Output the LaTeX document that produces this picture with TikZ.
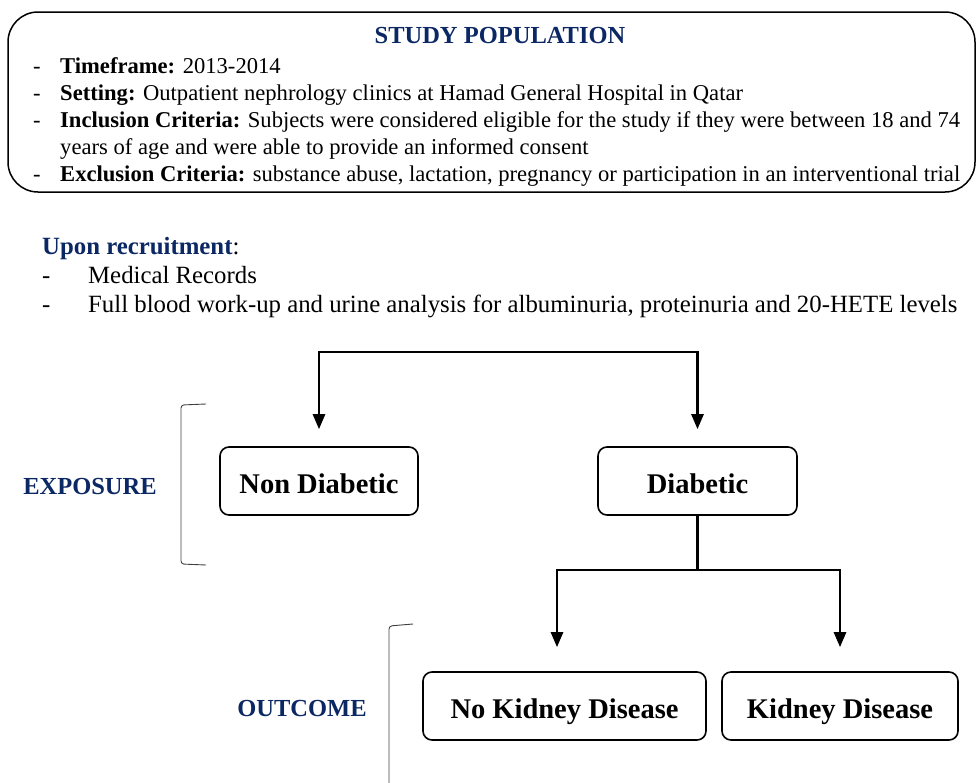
\documentclass[tikz,border=0pt]{standalone}
\usepackage{fontspec}
\setmainfont{Liberation Serif}
\usepackage{xcolor}
\usetikzlibrary{arrows.meta, positioning}
\definecolor{navy}{RGB}{12,40,100}

\begin{document}
\begin{tikzpicture}[x=1pt,y=-1pt,
    box/.style={rectangle,draw,line width=1.6pt,rounded corners=9pt,minimum height=68pt,text height=25pt,text depth=0pt,font=\fontsize{28.5}{32}\selectfont\bfseries},
    flow/.style={line width=2.6pt,-{Triangle[width=12pt,length=15pt]}},
    bracket/.style={draw=black!75,line width=0.9pt,rounded corners=3pt},
    item/.style={anchor=base west,inner sep=0pt,font=\fontsize{22.6}{27}\selectfont},
    rec/.style={anchor=base west,inner sep=0pt,font=\fontsize{24.8}{29}\selectfont},
    label/.style={inner sep=0pt,text=navy,font=\fontsize{24.5}{29}\selectfont\bfseries}]
    \useasboundingbox (0,0) rectangle (980,782);

    % Study population
    \draw[line width=1.5pt,rounded corners=30pt] (8,12) rectangle (975,192);
    \node[anchor=base,inner sep=0pt,text=navy,font=\fontsize{24.5}{29}\selectfont\bfseries] (title) at (500,43) {STUDY POPULATION};
    \node[item] (d1) at (33,73) {-};
    \node[item] (time) at (60,73) {\textbf{Timeframe:} 2013-2014};
    \node[item] (d2) at (33,100) {-};
    \node[item] (setting) at (60,100) {\textbf{Setting:} Outpatient nephrology clinics at Hamad General Hospital in Qatar};
    \node[item] (d3) at (33,127) {-};
    \node[item] (incl) at (60,127) {\textbf{Inclusion Criteria:} Subjects were considered eligible for the study if they were between 18 and 74};
    \node[item] (incl2) at (60,154) {years of age and were able to provide an informed consent};
    \node[item] (d4) at (33,181) {-};
    \node[item] (excl) at (60,181) {\textbf{Exclusion Criteria:} substance abuse, lactation, pregnancy or participation in an interventional trial};

    % Recruitment
    \node[rec] (upon) at (42,254) {\textcolor{navy}{\textbf{Upon recruitment}}:};
    \node[rec] (d5) at (42,283) {-};
    \node[rec] (medrec) at (88,283) {Medical Records};
    \node[rec] (d6) at (42,312) {-};
    \node[rec] (blood) at (88,312) {Full blood work-up and urine analysis for albuminuria, proteinuria and 20-HETE levels};

    % Exposure
    \node[box,minimum width=198pt] (nondia) at (319,481) {Non Diabetic};
    \node[box,minimum width=199pt] (dia) at (697.5,481) {Diabetic};
    \coordinate (split) at (508,352);
    \draw[flow,shorten >=17pt] (split) -| (nondia.north);
    \draw[flow,shorten >=17pt] (split) -| (dia.north);
    \node[label] (exposure) at (90,487) {EXPOSURE};
    \draw[bracket] (206,404) -- (181,405) -- (181,564) -- (206,565);

    % Outcome
    \node[box,minimum width=283pt] (nokd) at (564.5,706) {No Kidney Disease};
    \node[box,minimum width=236pt] (kd) at (840,706) {Kidney Disease};
    \coordinate (split2) at (697.5,570);
    \draw[line width=2.6pt] (dia.south) -- (split2);
    \draw[flow,shorten >=24pt] (split2) -| (nokd.north -| 557,0);
    \draw[flow,shorten >=24pt] (split2) -| (kd.north);
    \node[label] (outcome) at (302,708) {OUTCOME};
    \draw[bracket] (413,624) -- (389,626) -- (389,790);
\end{tikzpicture}
\end{document}
